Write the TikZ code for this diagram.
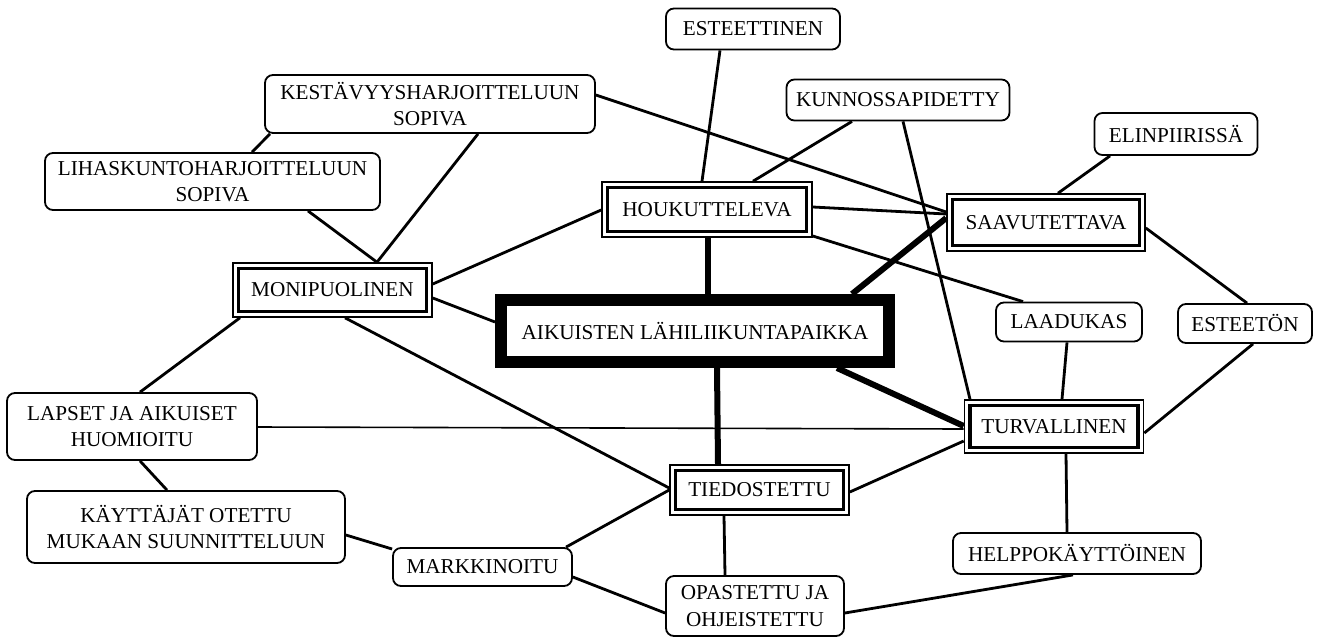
\documentclass[tikz,border=0pt]{standalone}
\usepackage{fontspec}
\setmainfont{Liberation Serif}

\tikzset{
  every node/.style={font=\fontsize{10.6}{13.3}\selectfont, align=center, inner sep=0pt},
  ominaisuus/.style={draw, line width=0.9pt, rounded corners=4pt},
  teema/.style={draw, line width=0.8pt},
  keskus/.style={draw, line width=6pt},
  yhteys/.style={line width=1.4pt},
  vahva/.style={line width=3pt},
  ohut/.style={line width=0.8pt},
}

\begin{document}
\begin{tikzpicture}[x=0.5pt, y=-0.5pt]
\useasboundingbox (0,0) rectangle (1327,638);

% keskus
\node[keskus, minimum width=194pt, minimum height=31pt] (aikuiset) at (695,331) {AIKUISTEN LÄHILIIKUNTAPAIKKA};

% teemat (kaksoiskehys)
\node[teema, minimum width=105pt, minimum height=27.5pt] (houkutteleva) at (707,209.5) {HOUKUTTELEVA};
\node[teema, minimum width=99pt, minimum height=28.5pt] (saavutettava) at (1046,222.5) {SAAVUTETTAVA};
\node[teema, minimum width=99.5pt, minimum height=27pt] (monipuolinen) at (332.5,290) {MONIPUOLINEN};
\node[teema, minimum width=89.5pt, minimum height=26.5pt] (turvallinen) at (1054,426.5) {TURVALLINEN};
\node[teema, minimum width=89.5pt, minimum height=25pt] (tiedostettu) at (759.5,490) {TIEDOSTETTU};
\foreach \n in {houkutteleva,saavutettava,monipuolinen,turvallinen,tiedostettu}
  \draw[line width=1.8pt] ([shift={(3.2pt,3.2pt)}]\n.south west) rectangle ([shift={(-3.2pt,-3.2pt)}]\n.north east);

% ominaisuudet
\node[ominaisuus, minimum width=87pt, minimum height=20.5pt] (esteettinen) at (753,29) {ESTEETTINEN};
\node[ominaisuus, minimum width=111.5pt, minimum height=20.5pt] (kunnossapidetty) at (898,100) {KUNNOSSAPIDETTY};
\node[ominaisuus, minimum width=81.5pt, minimum height=21pt] (elinpiirissa) at (1176,134) {ELINPIIRISSÄ};
\node[ominaisuus, minimum width=165pt, minimum height=29pt] (kestavyys) at (430,104) {KESTÄVYYSHARJOITTELUUN\\SOPIVA};
\node[ominaisuus, minimum width=167.5pt, minimum height=28.5pt] (lihaskunto) at (212.5,181.5) {LIHASKUNTOHARJOITTELUUN\\SOPIVA};
\node[ominaisuus, minimum width=73pt, minimum height=19.5pt] (laadukas) at (1069,322) {LAADUKAS};
\node[ominaisuus, minimum width=67pt, minimum height=19.5pt] (esteeton) at (1245,323.5) {ESTEETÖN};
\node[ominaisuus, minimum width=125pt, minimum height=33.5pt] (lapset) at (132,426.5) {LAPSET JA AIKUISET\\HUOMIOITU};
\node[ominaisuus, minimum width=159pt, minimum height=36pt] (kayttajat) at (186,527) {KÄYTTÄJÄT OTETTU\\MUKAAN SUUNNITTELUUN};
\node[ominaisuus, minimum width=89.5pt, minimum height=19pt] (markkinoitu) at (482.5,567) {MARKKINOITU};
\node[ominaisuus, minimum width=89pt, minimum height=30pt] (opastettu) at (755,606) {OPASTETTU JA\\OHJEISTETTU};
\node[ominaisuus, minimum width=124pt, minimum height=20.5pt] (helppo) at (1077,553.5) {HELPPOKÄYTTÖINEN};

% houkutteleva
\draw[yhteys] (esteettinen.south -| 720,0) -- (houkutteleva.north -| 702,0);
\draw[yhteys] (kunnossapidetty.south -| 852,0) -- (houkutteleva.north -| 753,0);
\draw[yhteys] (houkutteleva.west |- 0,210) -- (monipuolinen.east |- 0,284);
\draw[yhteys] (houkutteleva.east |- 0,207) -- (saavutettava.west |- 0,214);
\draw[yhteys] (houkutteleva.east |- 0,236) -- (laadukas.north -| 1023,0);
\draw[vahva] (houkutteleva.south -| 708,0) -- (aikuiset.north -| 708,0);

% harjoittelu
\draw[yhteys] (kestavyys.east |- 0,95) -- (saavutettava.west |- 0,212);
\draw[yhteys] (kestavyys.south -| 478,0) -- (monipuolinen.north -| 377,0);
\draw[yhteys] (kestavyys.south -| 270,0) -- (lihaskunto.north -| 252,0);
\draw[yhteys] (lihaskunto.south -| 308,0) -- (monipuolinen.north -| 377,0);

% saavutettava
\draw[yhteys] (elinpiirissa.south -| 1110,0) -- (saavutettava.north -| 1058,0);
\draw[vahva] (aikuiset.north -| 852,0) -- (saavutettava.west |- 0,218);
\draw[yhteys] (saavutettava.east |- 0,228) -- (esteeton.north -| 1247,0);

% turvallinen
\draw[yhteys] (kunnossapidetty.south -| 903,0) -- (turvallinen.north -| 970,0);
\draw[yhteys] (laadukas.south -| 1067,0) -- (turvallinen.north -| 1062,0);
\draw[yhteys] (esteeton.south -| 1253,0) -- (turvallinen.east |- 0,433);
\draw[vahva] (aikuiset.south -| 837,0) -- (turvallinen.west |- 0,426);
\draw[ohut] (lapset.east |- 0,427) -- (turvallinen.west |- 0,429);
\draw[yhteys] (tiedostettu.east |- 0,492) -- (turvallinen.west |- 0,441);
\draw[yhteys] (turvallinen.south -| 1066,0) -- (helppo.north -| 1067,0);

% monipuolinen
\draw[yhteys] (monipuolinen.east |- 0,298) -- (aikuiset.west |- 0,322);
\draw[yhteys] (monipuolinen.south -| 240,0) -- (lapset.north -| 140,0);
\draw[yhteys] (monipuolinen.south -| 345,0) -- (tiedostettu.west |- 0,488);

% tiedostettu
\draw[vahva] (aikuiset.south -| 717,0) -- (tiedostettu.north -| 718,0);
\draw[yhteys] (tiedostettu.south -| 724,0) -- (opastettu.north -| 725,0);
\draw[yhteys] (markkinoitu.north -| 566,0) -- (tiedostettu.west |- 0,490);

% alarivi
\draw[yhteys] (lapset.south -| 140,0) -- (kayttajat.north -| 167,0);
\draw[yhteys] (kayttajat.east |- 0,535) -- (markkinoitu.west |- 0,549);
\draw[yhteys] (markkinoitu.east |- 0,577) -- (opastettu.west |- 0,613);
\draw[yhteys] (opastettu.east |- 0,613) -- (helppo.south -| 1073,0);
\end{tikzpicture}
\end{document}
